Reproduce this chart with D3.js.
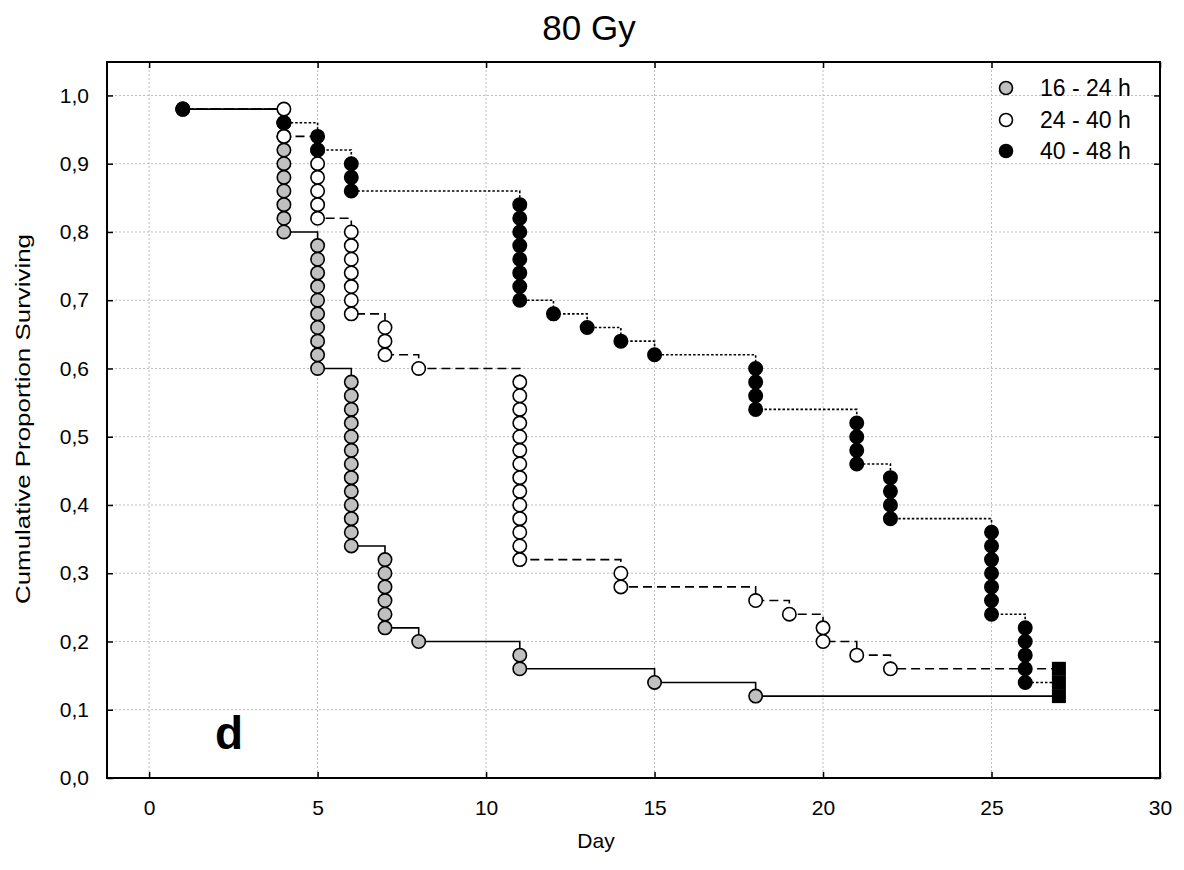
<!DOCTYPE html>
<html>
<head>
<meta charset="utf-8">
<script src="https://cdn.jsdelivr.net/npm/d3@7"></script>
<style>
  html, body { margin: 0; padding: 0; background: #fff; }
  svg { display: block; font-family: "Liberation Sans", Arial, sans-serif; }
</style>
</head>
<body>
<svg id="chart" width="1184" height="870"></svg>
<script>
// ---- Data ----
const seriesNames = ["16 - 24 h", "24 - 40 h", "40 - 48 h"];
const xTicks = [0, 5, 10, 15, 20, 25, 30];
const yTicks = [0.0, 0.1, 0.2, 0.3, 0.4, 0.5, 0.6, 0.7, 0.8, 0.9, 1.0];
const endDay = 27;

// each entry: [day, cumulative proportions plotted at that day]
const grey1624 = [
  [1, [0.98]],
  [4, [0.96, 0.94, 0.92, 0.90, 0.88, 0.86, 0.84, 0.82, 0.80]],
  [5, [0.78, 0.76, 0.74, 0.72, 0.70, 0.68, 0.66, 0.64, 0.62, 0.60]],
  [6, [0.58, 0.56, 0.54, 0.52, 0.50, 0.48, 0.46, 0.44, 0.42, 0.40, 0.38, 0.36, 0.34]],
  [7, [0.32, 0.30, 0.28, 0.26, 0.24, 0.22]],
  [8, [0.20]],
  [11, [0.18, 0.16]],
  [15, [0.14]],
  [18, [0.12]]
];
const white2440 = [
  [1, [0.98]],
  [4, [0.98, 0.96, 0.94]],
  [5, [0.92, 0.90, 0.88, 0.86, 0.84, 0.82]],
  [6, [0.80, 0.78, 0.76, 0.74, 0.72, 0.70, 0.68]],
  [7, [0.66, 0.64, 0.62]],
  [8, [0.60]],
  [11, [0.58, 0.56, 0.54, 0.52, 0.50, 0.48, 0.46, 0.44, 0.42, 0.40, 0.38, 0.36, 0.34, 0.32]],
  [14, [0.30, 0.28]],
  [18, [0.26]],
  [19, [0.24]],
  [20, [0.22, 0.20]],
  [21, [0.18]],
  [22, [0.16]]
];
const black4048 = [
  [1, [0.98]],
  [4, [0.96]],
  [5, [0.94, 0.92]],
  [6, [0.90, 0.88, 0.86]],
  [11, [0.84, 0.82, 0.80, 0.78, 0.76, 0.74, 0.72, 0.70]],
  [12, [0.68]],
  [13, [0.66]],
  [14, [0.64]],
  [15, [0.62]],
  [18, [0.60, 0.58, 0.56, 0.54]],
  [21, [0.52, 0.50, 0.48, 0.46]],
  [22, [0.44, 0.42, 0.40, 0.38]],
  [25, [0.36, 0.34, 0.32, 0.30, 0.28, 0.26, 0.24]],
  [26, [0.22, 0.20, 0.18, 0.16, 0.14]]
];

const series = [
  { name: seriesNames[0], events: grey1624, fill: "#c0c0c0", stroke: "#000", dash: null },
  { name: seriesNames[1], events: white2440, fill: "#ffffff", stroke: "#000", dash: "9,5" },
  { name: seriesNames[2], events: black4048, fill: "#000000", stroke: "#000", dash: "2.5,2" }
];

// ---- Layout ----
const svg = d3.select("#chart");
const frame = { left: 107, right: 1160, top: 62, bottom: 778 };
const x = d3.scaleLinear().domain([-1.25, 30]).range([frame.left, frame.right]);
const y = d3.scaleLinear().domain([0, 1.049]).range([frame.bottom, frame.top]);
const fmt = d => d3.format(".1f")(d).replace(".", ",");

// gridlines
const grid = svg.append("g");
grid.selectAll("line.gx").data(xTicks.filter(d => d < 30)).join("line")
  .attr("x1", d => x(d)).attr("x2", d => x(d))
  .attr("y1", frame.top).attr("y2", frame.bottom)
  .attr("stroke", "#bdbdbd").attr("stroke-width", 1).attr("stroke-dasharray", "2,2");
grid.selectAll("line.gy").data(yTicks.filter(d => d > 0)).join("line")
  .attr("x1", frame.left).attr("x2", frame.right)
  .attr("y1", d => y(d)).attr("y2", d => y(d))
  .attr("stroke", "#bdbdbd").attr("stroke-width", 1).attr("stroke-dasharray", "2,2");

// axes (ticks inside)
const tickLen = 6;
const axB = svg.append("g").attr("transform", `translate(0,${frame.bottom})`)
  .call(d3.axisBottom(x).tickValues(xTicks).tickSize(-tickLen).tickPadding(22).tickFormat(d3.format("d")));
const axT = svg.append("g").attr("transform", `translate(0,${frame.top})`)
  .call(d3.axisTop(x).tickValues(xTicks).tickSize(-tickLen).tickFormat(""));
const axL = svg.append("g").attr("transform", `translate(${frame.left},0)`)
  .call(d3.axisLeft(y).tickValues(yTicks).tickSize(-tickLen).tickPadding(18).tickFormat(fmt));
const axR = svg.append("g").attr("transform", `translate(${frame.right},0)`)
  .call(d3.axisRight(y).tickValues(yTicks).tickSize(-tickLen).tickFormat(""));
[axB, axT, axL, axR].forEach(a => {
  a.select(".domain").remove();
  a.selectAll(".tick line").attr("stroke", "#000").attr("stroke-width", 1.5);
  a.selectAll("text").attr("fill", "#000").style("font-size", "21px")
    .style("font-family", '"Liberation Sans", Arial, sans-serif');
});
axB.selectAll("text").attr("dy", "0.71em");

// frame
svg.append("rect").attr("x", frame.left).attr("y", frame.top)
  .attr("width", frame.right - frame.left).attr("height", frame.bottom - frame.top)
  .attr("fill", "none").attr("stroke", "#000").attr("stroke-width", 2);

// step lines
function stepPoints(events) {
  const pts = [];
  let prev = null;
  events.forEach(([day, vals]) => {
    const low = vals[vals.length - 1];
    if (prev === null) {
      pts.push([day, vals[0]]);
    } else {
      pts.push([day, prev]);
    }
    pts.push([day, low]);
    prev = low;
  });
  pts.push([endDay, prev]);
  return pts;
}
const line = d3.line().x(d => x(d[0])).y(d => y(d[1]));
const linesG = svg.append("g");
series.forEach(s => {
  linesG.append("path")
    .attr("d", line(stepPoints(s.events)))
    .attr("fill", "none").attr("stroke", "#000").attr("stroke-width", 1.6)
    .attr("stroke-dasharray", s.dash);
});

// censored markers at end
const cens = svg.append("g");
series.forEach(s => {
  const last = s.events[s.events.length - 1][1];
  const v = last[last.length - 1];
  cens.append("rect")
    .attr("x", x(endDay) - 7).attr("y", y(v) - 7)
    .attr("width", 14).attr("height", 14).attr("fill", "#000");
});

// markers
const r = 6.7;
series.forEach(s => {
  const flat = [];
  s.events.forEach(([day, vals]) => vals.forEach(v => flat.push([day, v])));
  svg.append("g").selectAll("circle").data(flat).join("circle")
    .attr("cx", d => x(d[0])).attr("cy", d => y(d[1])).attr("r", r)
    .attr("fill", s.fill).attr("stroke", "#000").attr("stroke-width", 1.6);
});

// legend
const leg = svg.append("g");
const legY = [88, 120, 151];
series.forEach((s, i) => {
  leg.append("circle").attr("cx", 1006).attr("cy", legY[i]).attr("r", 6.5)
    .attr("fill", s.fill).attr("stroke", "#000").attr("stroke-width", 1.6);
  leg.append("text").attr("x", 1040).attr("y", legY[i]).attr("dy", "0.36em")
    .style("font-size", "23px").attr("fill", "#000").text(s.name);
});

// title
svg.append("text").attr("x", 589).attr("y", 40).attr("text-anchor", "middle")
  .style("font-size", "35px").attr("fill", "#000").text("80 Gy");

// axis titles
svg.append("text").attr("x", 596).attr("y", 848).attr("text-anchor", "middle")
  .style("font-size", "21px").attr("fill", "#000").text("Day");
svg.append("text").attr("transform", "translate(30,419) rotate(-90)")
  .attr("text-anchor", "middle").style("font-size", "21px").attr("fill", "#000")
  .attr("textLength", 370).attr("lengthAdjust", "spacingAndGlyphs")
  .text("Cumulative Proportion Surviving");

// panel letter
svg.append("text").attr("x", 229).attr("y", 749).attr("text-anchor", "middle")
  .style("font-size", "46px").style("font-weight", "bold").attr("fill", "#000").text("d");
</script>
</body>
</html>
